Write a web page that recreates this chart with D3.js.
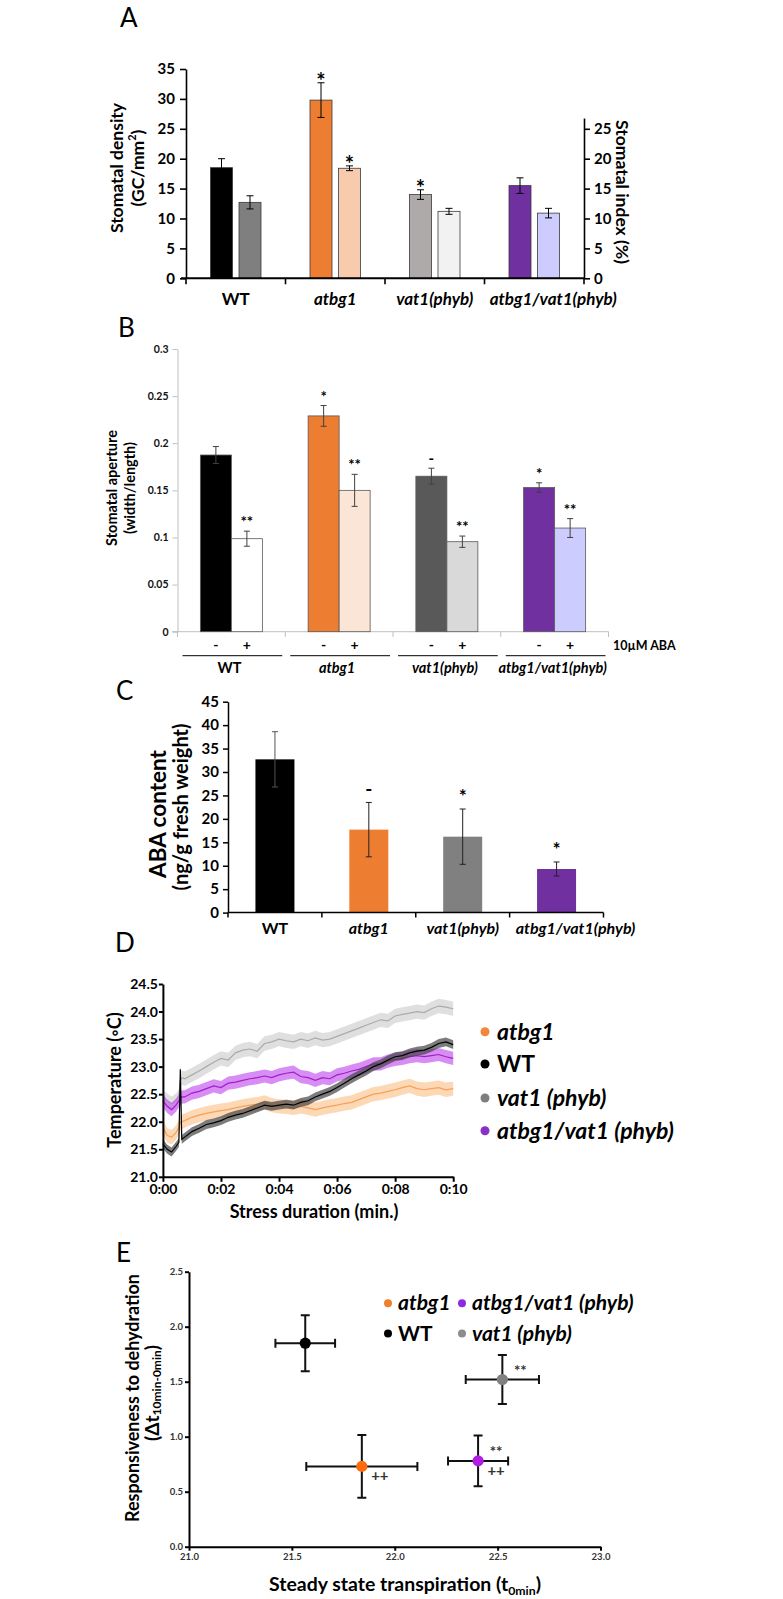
<!DOCTYPE html>
<html><head><meta charset="utf-8">
<script src="https://cdn.jsdelivr.net/npm/d3@7"></script>
<style>body{margin:0;background:#fff}text{font-family:Lato,"Open Sans",sans-serif}</style>
</head><body>
<svg id="c" width="783" height="1599" xmlns="http://www.w3.org/2000/svg"></svg>
<script>
// ===================== DATA =====================
const genotypes = ["WT", "atbg1", "vat1(phyb)", "atbg1/vat1(phyb)"];
const genoItalic = [false, true, true, true];

// Panel A – stomatal density (left axis) and stomatal index (right axis)
const densityValues = [18.5, 29.8, 14.0, 15.5];
const densityErr    = [1.5, 2.9, 0.8, 1.3];
const densitySig    = ["", "*", "*", ""];
const indexValues   = [12.7, 18.4, 11.2, 10.9];
const indexErr      = [1.1, 0.4, 0.5, 0.8];
const indexSig      = ["", "*", "", ""];
const densityTicks  = [0, 5, 10, 15, 20, 25, 30, 35];
const indexTicks    = [0, 5, 10, 15, 20, 25];

// Panel B – stomatal aperture, - / + 10µM ABA
const apertureMinus    = [0.1875, 0.229, 0.165, 0.153];
const apertureMinusErr = [0.009, 0.011, 0.0085, 0.005];
const apertureMinusSig = ["", "*", "-", "*"];
const aperturePlus     = [0.0987, 0.150, 0.0955, 0.110];
const aperturePlusErr  = [0.008, 0.017, 0.006, 0.010];
const aperturePlusSig  = ["**", "**", "**", "**"];
const apertureTicks    = [0, 0.05, 0.1, 0.15, 0.2, 0.25, 0.3];
const abaTreatment     = ["-", "+"];

// Panel C – ABA content
const abaValues = [32.7, 17.7, 16.2, 9.3];
const abaErr    = [5.9, 5.8, 5.9, 1.5];
const abaSig    = ["", "-", "*", "*"];
const abaTicks  = [0, 5, 10, 15, 20, 25, 30, 35, 40, 45];

// Panel D – leaf temperature during dehydration stress
const stressTime = [0, 0.15, 0.3, 0.45, 0.55, 0.6, 0.65, 0.75, 1.0, 1.25, 1.5, 1.75, 2.0, 2.25, 2.5, 2.75, 3.0, 3.25, 3.5, 3.75, 4.0, 4.25, 4.5, 4.75, 5.0, 5.25, 5.5, 5.75, 6.0, 6.25, 6.5, 6.75, 7.0, 7.25, 7.5, 7.75, 8.0, 8.25, 8.5, 8.75, 9.0, 9.25, 9.5, 9.75, 10.0];
const tempVat1 = [22.45, 22.38, 22.33, 22.38, 22.45, 22.75, 22.80, 22.78, 22.85, 22.92, 23.00, 23.08, 23.15, 23.12, 23.25, 23.30, 23.32, 23.28, 23.42, 23.45, 23.50, 23.47, 23.45, 23.50, 23.47, 23.52, 23.48, 23.50, 23.55, 23.60, 23.65, 23.70, 23.75, 23.80, 23.85, 23.83, 23.92, 23.95, 23.97, 24.00, 23.98, 24.05, 24.10, 24.08, 24.05];
const tempAtbg1 = [21.90, 21.75, 21.72, 21.80, 21.90, 21.98, 22.00, 22.02, 22.08, 22.12, 22.15, 22.18, 22.20, 22.22, 22.25, 22.28, 22.30, 22.32, 22.35, 22.30, 22.28, 22.27, 22.25, 22.28, 22.25, 22.22, 22.25, 22.28, 22.30, 22.33, 22.35, 22.40, 22.45, 22.50, 22.52, 22.55, 22.58, 22.62, 22.65, 22.60, 22.58, 22.60, 22.62, 22.58, 22.60];
const tempDouble = [22.38, 22.28, 22.22, 22.30, 22.38, 22.42, 22.45, 22.45, 22.52, 22.55, 22.60, 22.65, 22.62, 22.70, 22.72, 22.75, 22.78, 22.80, 22.83, 22.80, 22.85, 22.88, 22.90, 22.82, 22.80, 22.75, 22.80, 22.78, 22.85, 22.88, 22.92, 22.95, 23.00, 23.05, 23.05, 23.10, 23.13, 23.15, 23.18, 23.20, 23.18, 23.20, 23.22, 23.18, 23.15];
const tempWT = [21.60, 21.50, 21.45, 21.55, 21.62, 22.95, 21.68, 21.72, 21.82, 21.88, 21.95, 21.98, 22.02, 22.08, 22.12, 22.15, 22.20, 22.25, 22.30, 22.28, 22.30, 22.32, 22.30, 22.35, 22.38, 22.45, 22.50, 22.55, 22.62, 22.70, 22.78, 22.85, 22.92, 23.00, 23.05, 23.12, 23.18, 23.20, 23.25, 23.28, 23.30, 23.35, 23.42, 23.45, 23.40];
const tempSem = {vat1: 0.13, atbg1: 0.13, double: 0.12, WT: 0.08};
const tempTicks = [21.0, 21.5, 22.0, 22.5, 23.0, 23.5, 24.0, 24.5];
const timeTicks = [0, 2, 4, 6, 8, 10];
const legendD = ["atbg1", "WT", "vat1 (phyb)", "atbg1/vat1 (phyb)"];

// Panel E – responsiveness vs steady state transpiration
const scatterNames   = ["WT", "atbg1", "vat1 (phyb)", "atbg1/vat1 (phyb)"];
const steadyState    = [21.565, 21.84, 22.523, 22.405];
const steadyStateErr = [0.145, 0.27, 0.178, 0.146];
const responsiveness = [1.85, 0.73, 1.52, 0.78];
const responsivenessErr = [0.255, 0.285, 0.223, 0.23];
const scatterSigTop  = ["", "", "**", "**"];
const scatterSigBot  = ["", "++", "", "++"];
const eXTicks = [21.0, 21.5, 22.0, 22.5, 23.0];
const eYTicks = [0.0, 0.5, 1.0, 1.5, 2.0, 2.5];

// ===================== DRAWING =====================
const svg = d3.select("#c");
const SERIF = "'Liberation Serif','DejaVu Serif',serif";
const ARIAL = "'Liberation Sans',Arial,sans-serif";
// label nudges (layout only): last genotype label sits right of its group in A and C
const labelShift = [0, 0, 0, 19];

function label(g, x, y, s, o = {}) {
  const t = g.append("text").attr("x", x).attr("y", y).text(s)
    .attr("font-size", o.size || 14).attr("font-weight", o.weight || 700)
    .attr("text-anchor", o.anchor || "middle").attr("fill", o.fill || "#000");
  if (o.italic) t.attr("font-style", "italic");
  if (o.family) t.attr("font-family", o.family);
  if (o.len) t.attr("textLength", o.len).attr("lengthAdjust", "spacingAndGlyphs");
  return t;
}
function vlabel(g, x, y, s, o = {}) {
  const t = g.append("text").attr("transform", `translate(${x},${y}) rotate(${o.rot || -90})`)
    .attr("text-anchor", "middle").attr("dominant-baseline", "central")
    .attr("font-size", o.size || 14).attr("font-weight", 700).attr("fill", "#000").text(s);
  if (o.len) t.attr("textLength", o.len).attr("lengthAdjust", "spacingAndGlyphs");
  return t;
}
function styleAxis(sel, color, width, size, family, fill) {
  sel.select(".domain").attr("stroke", color).attr("stroke-width", width);
  sel.selectAll(".tick line").attr("stroke", color).attr("stroke-width", width);
  sel.selectAll(".tick text").attr("font-size", size).attr("font-weight", 700)
     .attr("font-family", family || "Lato").attr("fill", fill || "#000");
}
function errBar(g, cx, y, v, e, cap, color, sw) {
  const p = d3.path();
  p.moveTo(cx, y(v - e)); p.lineTo(cx, y(v + e));
  p.moveTo(cx - cap / 2, y(v + e)); p.lineTo(cx + cap / 2, y(v + e));
  p.moveTo(cx - cap / 2, y(v - e)); p.lineTo(cx + cap / 2, y(v - e));
  g.append("path").attr("d", p.toString()).attr("stroke", color).attr("stroke-width", sw).attr("fill", "none");
}
function hErrBar(g, cy, x, v, e, cap, color, sw) {
  const p = d3.path();
  p.moveTo(x(v - e), cy); p.lineTo(x(v + e), cy);
  p.moveTo(x(v - e), cy - cap / 2); p.lineTo(x(v - e), cy + cap / 2);
  p.moveTo(x(v + e), cy - cap / 2); p.lineTo(x(v + e), cy + cap / 2);
  g.append("path").attr("d", p.toString()).attr("stroke", color).attr("stroke-width", sw).attr("fill", "none");
}
function panelLetter(x, y, s) {
  label(svg, x, y, s, {size: 26, weight: 400, anchor: "start", family: SERIF});
}

// ---------- Panel A ----------
{
  const g = svg.append("g");
  panelLetter(120, 27, "A");
  const X0 = 186, X1 = 584, Y0 = 278.3;
  const x = d3.scaleBand().domain(genotypes).range([X0, X1]);
  const y = d3.scaleLinear().domain([0, 35]).range([Y0, 69]);
  const bw = 22, gap = 6.5, off = (x.bandwidth() - 2 * bw - gap) / 2;
  const c1 = ["#000000", "#ED7D31", "#AEAAAA", "#7030A0"];
  const c2 = ["#7F7F7F", "#F8CBAD", "#F2F2F2", "#CCCCFF"];
  genotypes.forEach((gn, i) => {
    const xa = x(gn) + off, xb = xa + bw + gap;
    g.append("rect").attr("x", xa).attr("y", y(densityValues[i])).attr("width", bw)
      .attr("height", y(0) - y(densityValues[i])).attr("fill", c1[i]).attr("stroke", "#3a3a3a").attr("stroke-width", 0.8);
    g.append("rect").attr("x", xb).attr("y", y(indexValues[i])).attr("width", bw)
      .attr("height", y(0) - y(indexValues[i])).attr("fill", c2[i]).attr("stroke", "#3a3a3a").attr("stroke-width", 0.8);
    errBar(g, xa + bw / 2, y, densityValues[i], densityErr[i], 7, "#000", 1);
    errBar(g, xb + bw / 2, y, indexValues[i], indexErr[i], 7, "#000", 1);
    if (densitySig[i]) label(g, xa + bw / 2, y(densityValues[i] + densityErr[i]) + 6, densitySig[i], {size: 22});
    if (indexSig[i]) label(g, xb + bw / 2, y(indexValues[i] + indexErr[i]) + 6, indexSig[i], {size: 22});
    label(g, x(gn) + x.bandwidth() / 2 + labelShift[i], 305, gn, {size: 17, italic: genoItalic[i]});
  });
  g.append("g").attr("transform", `translate(${X0},0)`)
    .call(d3.axisLeft(y).tickValues(densityTicks).tickSize(6).tickSizeOuter(0).tickPadding(5))
    .call(styleAxis, "#000", 1.6, 15);
  const yR = d3.scaleLinear().domain([0, 26.8]).range([Y0, y(26.8)]);
  g.append("g").attr("transform", `translate(${X1},0)`)
    .call(d3.axisRight(yR).tickValues(indexTicks).tickSize(6).tickSizeOuter(0).tickPadding(4))
    .call(styleAxis, "#000", 1.6, 15);
  g.append("line").attr("x1", X0 - 5).attr("x2", X1).attr("y1", Y0).attr("y2", Y0).attr("stroke", "#000").attr("stroke-width", 2);
  [...genotypes.map(d => x(d)), X1].forEach(v => g.append("line").attr("x1", v).attr("x2", v)
    .attr("y1", Y0).attr("y2", Y0 + 6).attr("stroke", "#000").attr("stroke-width", 1.6));
  vlabel(g, 116, 168, "Stomatal density", {size: 17.5});
  const t = g.append("text").attr("transform", "translate(137,168) rotate(-90)").attr("text-anchor", "middle")
    .attr("dominant-baseline", "central").attr("font-size", 17.5).attr("font-weight", 700);
  t.append("tspan").text("(GC/mm");
  t.append("tspan").text("2").attr("font-size", 11).attr("dy", -6);
  t.append("tspan").text(")").attr("dy", 6);
  vlabel(g, 622, 192, "Stomatal index (%)", {size: 17.5, rot: 90});
}

// ---------- Panel B ----------
{
  const g = svg.append("g");
  panelLetter(118, 337, "B");
  const x = d3.scaleBand().domain(genotypes).range([177.5, 608.5]);
  const y = d3.scaleLinear().domain([0, 0.3]).range([631.7, 349]);
  const bw = 31, off = (x.bandwidth() - 2 * bw) / 2;
  const cM = ["#000000", "#ED7D31", "#595959", "#7030A0"];
  const cP = ["#FFFFFF", "#FBE5D6", "#D9D9D9", "#CCCCFF"];
  g.append("g").attr("transform", "translate(177.5,0)")
    .call(d3.axisLeft(y).tickValues(apertureTicks).tickSize(5).tickSizeOuter(0).tickPadding(4).tickFormat(d => String(d)))
    .call(styleAxis, "#BFBFBF", 1, 10.5, "Lato", "#111");
  g.append("line").attr("x1", 172).attr("x2", 608.5).attr("y1", 631.7).attr("y2", 631.7).attr("stroke", "#BFBFBF");
  [...genotypes.map(d => x(d)), 608.5].forEach(v => g.append("line").attr("x1", v).attr("x2", v)
    .attr("y1", 631.7).attr("y2", 637).attr("stroke", "#BFBFBF"));
  genotypes.forEach((gn, i) => {
    const xa = x(gn) + off, xb = xa + bw;
    g.append("rect").attr("x", xa).attr("y", y(apertureMinus[i])).attr("width", bw)
      .attr("height", y(0) - y(apertureMinus[i])).attr("fill", cM[i]).attr("stroke", "#595959").attr("stroke-width", 0.8);
    g.append("rect").attr("x", xb).attr("y", y(aperturePlus[i])).attr("width", bw)
      .attr("height", y(0) - y(aperturePlus[i])).attr("fill", cP[i]).attr("stroke", "#595959").attr("stroke-width", 0.8);
    errBar(g, xa + bw / 2, y, apertureMinus[i], apertureMinusErr[i], 6, "#404040", 1);
    errBar(g, xb + bw / 2, y, aperturePlus[i], aperturePlusErr[i], 6, "#404040", 1);
    label(g, xa + bw / 2, y(apertureMinus[i] + apertureMinusErr[i]) - 4, apertureMinusSig[i], {size: 15});
    label(g, xb + bw / 2, y(aperturePlus[i] + aperturePlusErr[i]) - 4, aperturePlusSig[i], {size: 15});
    label(g, xa + bw / 2, 650, abaTreatment[0], {size: 14});
    label(g, xb + bw / 2, 650, abaTreatment[1], {size: 14});
    g.append("line").attr("x1", x(gn) + 5).attr("x2", x(gn) + x.bandwidth() - 3)
      .attr("y1", 655.7).attr("y2", 655.7).attr("stroke", "#000").attr("stroke-width", 1);
    label(g, x(gn) + x.bandwidth() / 2 - 2, 673, gn, {size: 14.5, italic: genoItalic[i]});
  });
  label(g, 613, 650, "10µM ABA", {size: 12.5, anchor: "start"});
  vlabel(g, 111, 488, "Stomatal aperture", {size: 14.5});
  vlabel(g, 129, 488, "(width/length)", {size: 14.5});
}

// ---------- Panel C ----------
{
  const g = svg.append("g");
  panelLetter(116, 700, "C");
  const x = d3.scaleBand().domain(genotypes).range([228, 603.5]);
  const y = d3.scaleLinear().domain([0, 45]).range([912.6, 701.7]);
  const bw = 39, off = (x.bandwidth() - bw) / 2;
  const cC = ["#000000", "#ED7D31", "#808080", "#7030A0"];
  genotypes.forEach((gn, i) => {
    const xa = x(gn) + off;
    g.append("rect").attr("x", xa).attr("y", y(abaValues[i])).attr("width", bw)
      .attr("height", y(0) - y(abaValues[i])).attr("fill", cC[i]);
    errBar(g, xa + bw / 2, y, abaValues[i], abaErr[i], 6, i === 0 ? "#555" : "#222", 1);
    if (abaSig[i]) label(g, xa + bw / 2, y(abaValues[i] + abaErr[i]) - 6, abaSig[i], {size: 19});
    label(g, x(gn) + x.bandwidth() / 2 + labelShift[i], 934, gn, {size: 16, italic: genoItalic[i]});
  });
  g.append("g").attr("transform", "translate(228,0)")
    .call(d3.axisLeft(y).tickValues(abaTicks).tickSize(5).tickSizeOuter(0).tickPadding(4))
    .call(styleAxis, "#000", 1.5, 15);
  g.append("line").attr("x1", 228).attr("x2", 603.5).attr("y1", 912.6).attr("y2", 912.6).attr("stroke", "#000").attr("stroke-width", 1.5);
  [...genotypes.map(d => x(d)), 603.5].forEach(v => g.append("line").attr("x1", v).attr("x2", v)
    .attr("y1", 912.6).attr("y2", 917.5).attr("stroke", "#000").attr("stroke-width", 1.5));
  vlabel(g, 157, 814, "ABA content", {size: 22.5});
  vlabel(g, 180, 807, "(ng/g fresh weight)", {size: 20});
}

// ---------- Panel D ----------
{
  const g = svg.append("g");
  panelLetter(115, 952, "D");
  const x = d3.scaleLinear().domain([0, 10]).range([162.9, 453.2]);
  const y = d3.scaleLinear().domain([21, 24.5]).range([1176.8, 984]);
  const series = [
    {v: tempVat1, sem: tempSem.vat1, band: "#DCDCDC", line: "#ABABAB", op: 0.9},
    {v: tempAtbg1, sem: tempSem.atbg1, band: "#FCCB9C", line: "#F5A15A", op: 0.75},
    {v: tempDouble, sem: tempSem.double, band: "#C85CF0", line: "#A020C8", op: 0.7},
    {v: tempWT, sem: tempSem.WT, band: "#444444", line: "#000000", op: 0.7}
  ];
  series.forEach(s => {
    const area = d3.area().x((d, i) => x(stressTime[i])).y0(d => y(d - s.sem)).y1(d => y(d + s.sem));
    g.append("path").attr("d", area(s.v)).attr("fill", s.band).attr("opacity", s.op);
    const ln = d3.line().x((d, i) => x(stressTime[i])).y(d => y(d));
    g.append("path").attr("d", ln(s.v)).attr("fill", "none").attr("stroke", s.line).attr("stroke-width", 1.2);
  });
  g.append("g").attr("transform", "translate(162.9,0)")
    .call(d3.axisLeft(y).tickValues(tempTicks).tickSize(4).tickSizeOuter(0).tickPadding(1).tickFormat(d3.format(".1f")))
    .call(styleAxis, "#000", 2, 14, ARIAL);
  g.append("g").attr("transform", "translate(0,1176.8)")
    .call(d3.axisBottom(x).tickValues(timeTicks).tickSize(5).tickSizeOuter(0).tickPadding(2)
      .tickFormat(d => "0:" + String(d).padStart(2, "0")))
    .call(styleAxis, "#000", 2, 14, ARIAL);
  label(g, 314, 1218, "Stress duration (min.)", {size: 18});
  vlabel(g, 114, 1080, "Temperature (\u25E6C)", {size: 18});
  const lc = ["#F0873A", "#000000", "#7F7F7F", "#8B2FC9"];
  const ly = [1031.7, 1064, 1098, 1130.7];
  legendD.forEach((n, i) => {
    g.append("circle").attr("cx", 485).attr("cy", ly[i]).attr("r", 4.5).attr("fill", lc[i]);
    label(g, 497, ly[i] + 8, n, {size: 23, anchor: "start", italic: n !== "WT"});
  });
}

// ---------- Panel E ----------
{
  const g = svg.append("g");
  panelLetter(116, 1262, "E");
  const x = d3.scaleLinear().domain([21, 23]).range([189, 600.5]);
  const y = d3.scaleLinear().domain([0, 2.5]).range([1546.7, 1271.7]);
  g.append("g").attr("transform", "translate(189,0)")
    .call(d3.axisLeft(y).tickValues(eYTicks).tickSize(4).tickSizeOuter(0).tickPadding(2).tickFormat(d3.format(".1f")))
    .call(styleAxis, "#000", 2, 9.5, ARIAL, "#333");
  g.append("g").attr("transform", "translate(0,1546.7)")
    .call(d3.axisBottom(x).tickValues(eXTicks).tickSize(4).tickSizeOuter(0).tickPadding(3).tickFormat(d3.format(".1f")))
    .call(styleAxis, "#000", 2, 9.5, ARIAL, "#333");
  const pc = ["#000000", "#FF6A0D", "#808080", "#B01CE0"];
  scatterNames.forEach((n, i) => {
    const cx = x(steadyState[i]), cy = y(responsiveness[i]);
    hErrBar(g, cy, x, steadyState[i], steadyStateErr[i], 9, "#111", 2);
    errBar(g, cx, y, responsiveness[i], responsivenessErr[i], 9, "#111", 2);
    g.append("circle").attr("cx", cx).attr("cy", cy).attr("r", 5.6).attr("fill", pc[i]);
    if (scatterSigTop[i]) label(g, cx + 18, cy - 4, scatterSigTop[i], {size: 15, fill: "#333"});
    if (scatterSigBot[i]) label(g, cx + 18, cy + 15, scatterSigBot[i], {size: 15, fill: "#333"});
  });
  const legE = [
    {n: "atbg1", c: "#F07F2A", x: 388, y: 1303.3},
    {n: "atbg1/vat1 (phyb)", c: "#8B2BE2", x: 462, y: 1303.3},
    {n: "WT", c: "#000000", x: 388, y: 1333.5},
    {n: "vat1 (phyb)", c: "#8C8C8C", x: 462, y: 1333.5}
  ];
  legE.forEach(d => {
    g.append("circle").attr("cx", d.x).attr("cy", d.y).attr("r", 4).attr("fill", d.c);
    label(g, d.x + 10, d.y + 7, d.n, {size: 21, anchor: "start", italic: d.n !== "WT"});
  });
  vlabel(g, 131, 1398, "Responsiveness to dehydration", {size: 19, len: 248});
  const t2 = g.append("text").attr("transform", "translate(151,1393) rotate(-90)").attr("text-anchor", "middle")
    .attr("dominant-baseline", "central").attr("font-size", 19).attr("font-weight", 700);
  t2.append("tspan").text("(\u0394t");
  t2.append("tspan").text("10min-0min").attr("font-size", 12).attr("dy", 5);
  t2.append("tspan").text(")").attr("dy", -5);
  const t3 = g.append("text").attr("x", 405).attr("y", 1591).attr("text-anchor", "middle")
    .attr("font-size", 19).attr("font-weight", 700).attr("textLength", 272).attr("lengthAdjust", "spacingAndGlyphs");
  t3.append("tspan").text("Steady state transpiration (t");
  t3.append("tspan").text("0min").attr("font-size", 12).attr("dy", 4);
  t3.append("tspan").text(")").attr("dy", -4);
}
</script>
</body></html>
